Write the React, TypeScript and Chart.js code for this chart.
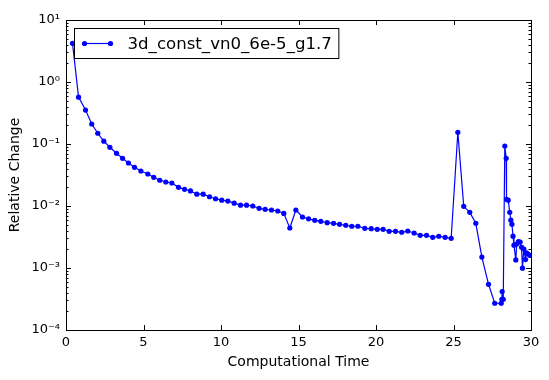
import React, { useEffect, useRef } from "react";
import { Chart, registerables } from "chart.js";

Chart.register(...registerables);

const seriesLabel = "3d_const_vn0_6e-5_g1.7";

const timeValues: number[] = [
  0.42, 0.81, 1.26, 1.66, 2.05, 2.44, 2.83, 3.26, 3.65, 4.03,
  4.42, 4.83, 5.28, 5.66, 6.05, 6.44, 6.83, 7.26, 7.65, 8.03,
  8.44, 8.85, 9.26, 9.65, 10.05, 10.44, 10.85, 11.26, 11.65, 12.05,
  12.46, 12.85, 13.26, 13.66, 14.05, 14.44, 14.83, 15.26, 15.65, 16.05,
  16.44, 16.85, 17.26, 17.65, 18.05, 18.44, 18.83, 19.28, 19.69, 20.08,
  20.46, 20.85, 21.26, 21.66, 22.05, 22.46, 22.85, 23.26, 23.66, 24.05,
  24.46, 24.85, 25.28, 25.66, 26.05, 26.44, 26.83, 27.26, 27.66, 28.08,
  28.12, 28.14, 28.21, 28.31, 28.4, 28.42, 28.53, 28.63, 28.7, 28.77,
  28.84, 28.9, 29.02, 29.08, 29.19, 29.3, 29.39, 29.45, 29.54, 29.65,
  29.71, 29.81, 29.94,
];

const changeValues: number[] = [
  4.2, 0.57, 0.353, 0.21, 0.149, 0.111, 0.0885, 0.0708, 0.0588, 0.0494,
  0.0421, 0.0367, 0.0328, 0.029, 0.026, 0.0244, 0.0235, 0.02, 0.0186, 0.0175,
  0.0155, 0.0155, 0.0141, 0.0131, 0.0124, 0.012, 0.0111, 0.0103, 0.0103, 0.01,
  0.00918, 0.00885, 0.00862, 0.0083, 0.0076, 0.00442, 0.00862, 0.00665, 0.0062, 0.00587,
  0.00566, 0.00538, 0.00526, 0.00507, 0.00489, 0.00471, 0.00471, 0.00436, 0.0043, 0.00421,
  0.00421, 0.00391, 0.00391, 0.00377, 0.00395, 0.00367, 0.00337, 0.00337, 0.00312, 0.00325,
  0.00312, 0.00301, 0.1545, 0.00988, 0.0079, 0.00526, 0.0015, 0.000546, 0.00027, 0.00027,
  0.000313, 0.000418, 0.000313, 0.0929, 0.0588, 0.0128, 0.0124, 0.0079, 0.0059, 0.00507,
  0.00326, 0.00233, 0.00135, 0.00244, 0.00267, 0.00262, 0.00216, 0.000993, 0.00202, 0.00137,
  0.00175, 0.00168, 0.00159,
];

const xTickValues: number[] = [0, 5, 10, 15, 20, 25, 30];
const yDecadeExponents: number[] = [-4, -3, -2, -1, 0, 1];

const SUP: Record<string, string> = {
  "0": "\u2070", "1": "\u00b9", "2": "\u00b2", "3": "\u00b3", "4": "\u2074",
  "5": "\u2075", "6": "\u2076", "7": "\u2077", "8": "\u2078", "9": "\u2079", "-": "\u207b",
};
const powLabel = (e: number) => "10" + String(e).split("").map((c) => SUP[c] || c).join("");

const FONT = "'DejaVu Sans', sans-serif";

const framePlugin = {
  id: "mplFrame",
  afterDraw(chart: any) {
    const { ctx, chartArea } = chart;
    const { left, right, top, bottom } = chartArea;
    const xs = chart.scales.x;
    const ys = chart.scales.y;
    ctx.save();
    ctx.strokeStyle = "#000";
    ctx.lineWidth = 1;
    for (const v of xTickValues) {
      const px = Math.round(xs.getPixelForValue(v)) + 0.5;
      ctx.beginPath();
      ctx.moveTo(px, bottom);
      ctx.lineTo(px, bottom - 5);
      ctx.moveTo(px, top);
      ctx.lineTo(px, top + 5);
      ctx.stroke();
    }
    for (const e of yDecadeExponents) {
      for (let m = 1; m <= 9; m++) {
        const v = m * Math.pow(10, e);
        if (v > 10 || v < 1e-4) continue;
        const py = Math.round(ys.getPixelForValue(v)) + 0.5;
        const len = m === 1 ? 5 : 2.5;
        ctx.beginPath();
        ctx.moveTo(left, py);
        ctx.lineTo(left + len, py);
        ctx.moveTo(right, py);
        ctx.lineTo(right - len, py);
        ctx.stroke();
      }
    }
    ctx.strokeRect(Math.round(left) + 0.5, Math.round(top) + 0.5, Math.round(right - left), Math.round(bottom - top));

    const ds = chart.data.datasets[0];
    const bx = left + 8.5;
    const by = top + 8.5;
    ctx.font = "16.6px " + FONT;
    const tw = ctx.measureText(ds.label).width;
    const bw = 53 + tw + 7;
    const bh = 30;
    ctx.fillStyle = "#fff";
    ctx.fillRect(bx, by, bw, bh);
    ctx.strokeStyle = "#000";
    ctx.strokeRect(bx, by, bw, bh);
    const ly = by + bh / 2;
    ctx.strokeStyle = ds.borderColor;
    ctx.lineWidth = ds.borderWidth;
    ctx.beginPath();
    ctx.moveTo(bx + 10, ly);
    ctx.lineTo(bx + 36, ly);
    ctx.stroke();
    ctx.fillStyle = ds.backgroundColor;
    for (const cx of [bx + 10, bx + 36]) {
      ctx.beginPath();
      ctx.arc(cx, ly, ds.pointRadius, 0, Math.PI * 2);
      ctx.fill();
    }
    ctx.fillStyle = "#000";
    ctx.textBaseline = "middle";
    ctx.textAlign = "left";
    ctx.fillText(ds.label, bx + 53, ly + 1);
    ctx.restore();
  },
};

export default function App() {
  const ref = useRef<HTMLCanvasElement | null>(null);
  useEffect(() => {
    document.body.style.margin = "0";
    if (!ref.current) return;
    const points = timeValues.map((t, i) => ({ x: t, y: changeValues[i] }));
    const chart = new Chart(ref.current, {
      type: "line",
      data: {
        datasets: [
          {
            label: seriesLabel,
            data: points,
            borderColor: "#0000ff",
            backgroundColor: "#0000ff",
            borderWidth: 1.2,
            pointRadius: 2.6,
            pointBorderWidth: 0,
            pointHoverRadius: 2.6,
            tension: 0,
          },
        ],
      },
      options: {
        responsive: false,
        animation: false,
        devicePixelRatio: 1,
        layout: { padding: { top: 20, right: 18, left: 0, bottom: 0 } },
        plugins: { legend: { display: false }, tooltip: { enabled: false } },
        scales: {
          x: {
            type: "linear",
            min: 0,
            max: 30,
            grid: { display: false, drawTicks: false },
            border: { display: false },
            afterBuildTicks: (s: any) => {
              s.ticks = xTickValues.map((v) => ({ value: v }));
            },
            ticks: { color: "#000", font: { family: FONT, size: 13 }, padding: 5, maxRotation: 0 },
            title: {
              display: true,
              text: "Computational Time",
              color: "#000",
              font: { family: FONT, size: 14 },
              padding: { top: 0, bottom: 9 },
            },
            afterFit: (s: any) => {
              s.height = 50;
            },
          },
          y: {
            type: "logarithmic",
            min: 1e-4,
            max: 10,
            grid: { display: false, drawTicks: false },
            border: { display: false },
            afterBuildTicks: (s: any) => {
              s.ticks = yDecadeExponents.map((e) => ({ value: Math.pow(10, e) }));
            },
            ticks: {
              color: "#000",
              font: { family: FONT, size: 13 },
              padding: 6,
              callback: (v: any) => powLabel(Math.round(Math.log10(Number(v)))),
            },
            title: {
              display: true,
              text: "Relative Change",
              color: "#000",
              font: { family: FONT, size: 14 },
              padding: { top: 7, bottom: 0 },
            },
            afterFit: (s: any) => {
              s.width = 66;
            },
          },
        },
      },
      plugins: [framePlugin],
    });
    return () => chart.destroy();
  }, []);
  return (
    <div style={{ position: "absolute", left: 0, top: 0, width: 549, height: 380, background: "#fff" }}>
      <canvas ref={ref} width={549} height={380} style={{ width: 549, height: 380 }} />
    </div>
  );
}
